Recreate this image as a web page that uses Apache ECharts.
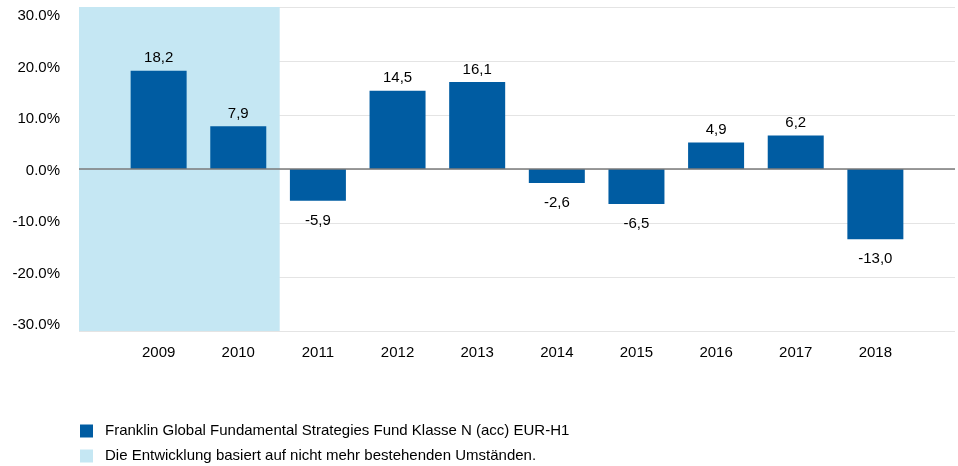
<!DOCTYPE html>
<html><head><meta charset="utf-8">
<script src="https://cdn.jsdelivr.net/npm/echarts@6/dist/echarts.min.js"></script>
<style>html,body{margin:0;padding:0;background:#fff}#c{width:958px;height:466px}</style>
</head><body><div id="c"></div>
<script>
const years = [2009, 2010, 2011, 2012, 2013, 2014, 2015, 2016, 2017, 2018];
const returns = [18.2, 7.9, -5.9, 14.5, 16.1, -2.6, -6.5, 4.9, 6.2, -13.0];
const seriesName = 'Franklin Global Fundamental Strategies Fund Klasse N (acc) EUR-H1';
const shadeName = 'Die Entwicklung basiert auf nicht mehr bestehenden Umständen.';
const shadeFrom = 2008, shadeTo = 2010.52;
const yTicks = [-30, -20, -10, 0, 10, 20, 30];

const FONT = '"Liberation Sans", Arial, sans-serif';
const FS = 15;
const BAR = '#005ca2', SHADE = '#c5e7f3';
const chart = echarts.init(document.getElementById('c'), null, {renderer: 'canvas'});
chart.setOption({
  animation: false,
  textStyle: {fontFamily: FONT},
  grid: [
    {left: 79, right: 0, top: 7, bottom: 135},
    {left: 79, right: 0, top: 16, bottom: 141}
  ],
  xAxis: [{
    type: 'value', min: 2008, max: 2019, interval: 1,
    axisLine: {show: false}, axisTick: {show: false}, splitLine: {show: false},
    axisLabel: {
      color: '#000', fontSize: FS, fontFamily: FONT, margin: 14,
      formatter: v => years.includes(v) ? String(v) : ''
    }
  }, {
    gridIndex: 1, type: 'value', show: false, min: 0, max: 1
  }],
  yAxis: [{
    type: 'value', min: yTicks[0], max: yTicks[yTicks.length - 1], interval: 10,
    axisLine: {show: false}, axisTick: {show: false},
    splitLine: {lineStyle: {color: '#e4e4e4', width: 1}},
    axisLabel: {show: false}
  }, {
    gridIndex: 1, type: 'value', min: yTicks[0], max: yTicks[yTicks.length - 1], interval: 10,
    axisLine: {show: false}, axisTick: {show: false}, splitLine: {show: false},
    axisLabel: {color: '#000', fontSize: FS, fontFamily: FONT, margin: 19,
      formatter: v => v.toFixed(1) + '%'}
  }],
  legend: {
    orient: 'vertical', left: 80, top: 423, padding: 0, itemWidth: 13, itemHeight: 13, itemGap: 9,
    icon: 'rect', textStyle: {color: '#000', fontSize: FS, lineHeight: 16, fontFamily: FONT, padding: [0, 0, 0, 7]},
    data: [seriesName, shadeName]
  },
  series: [
    {
      name: shadeName, type: 'bar', data: [], itemStyle: {color: SHADE},
      markArea: {silent: true, itemStyle: {color: SHADE, opacity: 1}, z: 0,
        data: [[{xAxis: shadeFrom}, {xAxis: shadeTo}]]}
    },
    {
      name: seriesName, type: 'bar', barWidth: 56, z: 3,
      data: years.map((y, i) => ({value: [y, returns[i]],
        label: returns[i] < 0 ? {position: 'bottom', distance: 12} : {position: 'top', distance: 5}})),
      itemStyle: {color: BAR},
      label: {
        show: true, color: '#000', fontSize: FS, fontFamily: FONT,
        formatter: p => p.value[1].toFixed(1).replace('.', ',')
      },
      markLine: {silent: true, symbol: 'none', label: {show: false},
        lineStyle: {color: '#7a7a7a', width: 1.5, type: 'solid'},
        data: [{yAxis: 0}]}
    }
  ]
});
</script></body></html>
